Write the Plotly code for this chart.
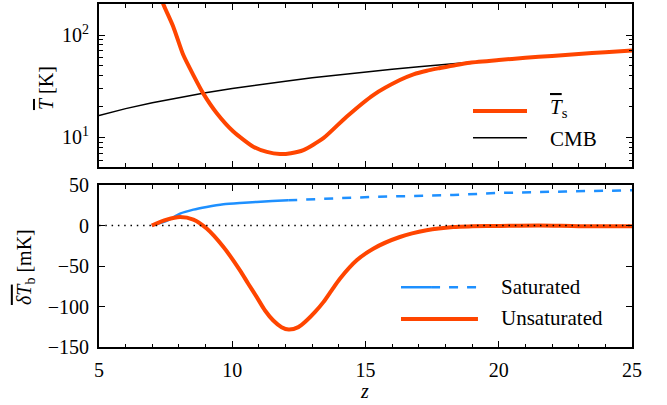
import plotly.graph_objects as go
from plotly.subplots import make_subplots

# ---------------- data ----------------
z_ts = [7.2, 7.41, 7.79, 8.16, 8.54, 8.91, 9.42, 10.04, 10.79, 11.3, 11.79, 12.2,
        12.67, 13.42, 14.29, 15.29, 16.29, 16.8, 17.3, 17.8, 18.4, 18.92, 20, 21,
        22, 23, 24, 25]
T_s = [290, 201, 120, 64, 40.6, 26.9, 17.2, 11.4, 8.1, 7.2, 6.87, 7.0,
       7.5, 9.8, 15.9, 25.9, 36.3, 41.3, 44.8, 47.6, 51.0, 53.6, 56.9, 59.8,
       62.5, 65.2, 67.9, 70.4]

z_cmb = [5, 6, 7, 8, 9, 10, 11, 12, 13, 14, 15, 16, 17, 18, 19, 20, 21, 22, 23, 24, 25]
T_cmb = [16.35, 19.08, 21.8, 24.5, 27.25, 29.98, 32.7, 35.4, 38.15, 40.9, 43.6,
         46.3, 49.05, 51.8, 54.5, 57.2, 59.95, 62.7, 65.4, 68.1, 70.85]

z_unsat = [6.98, 7.54, 8.04, 8.54, 9.04, 9.67, 10.29, 10.6, 10.92, 11.23, 11.54, 11.85,
           12.12, 12.48, 12.79, 13.1, 13.42, 13.73, 14.04, 14.67, 15.29, 16.29, 17.29,
           18.29, 19, 20, 21.5, 23, 25]
dTb_unsat = [0, 7.3, 10.5, 7.3, -3.8, -26.6, -55.4, -71.9, -88.4, -104.9, -117.3, -125.5,
             -128.5, -125.5, -117.3, -107, -94.6, -80, -65.7, -43, -28.6, -14.2, -5.9,
             -1.8, -1.0, -0.6, 0.0, -0.8, -1.0]

z_sat_solid = [6.98, 7.54, 8.04, 8.54, 9.04, 9.67, 10.29, 10.92, 11.5, 12.1]
dTb_sat_solid = [0, 5.6, 14.7, 19.6, 22.9, 26.2, 27.8, 29.1, 30.2, 31.2]
z_sat_dash = [12.1, 13.54, 15.29, 18.29, 20, 22.5, 25]
dTb_sat_dash = [31.2, 33.3, 35.3, 37.7, 40.2, 42.0, 43.5]

x_ticks = [5, 10, 15, 20, 25]
top_y_ticks = [10, 100]
top_y_ticktext = ["10<sup>1</sup>", "10<sup>2</sup>"]
top_y_minor = [6, 7, 8, 9, 20, 30, 40, 50, 60, 70, 80, 90, 200]
bot_y_ticks = [-150, -100, -50, 0, 50]

# ---------------- style ----------------
ORANGE = "#FF4500"
BLUE = "#1E90FF"
FONT = "Liberation Serif"
FS = 20
FSL = 21
OL = "<span style='text-decoration:overline'>{}</span>"

fig = make_subplots(rows=2, cols=1, shared_xaxes=False, vertical_spacing=0.0)

fig.add_trace(go.Scatter(x=z_cmb, y=T_cmb, mode="lines",
                         line=dict(color="black", width=1.5), showlegend=False), row=1, col=1)
fig.add_trace(go.Scatter(x=z_ts, y=T_s, mode="lines",
                         line=dict(color=ORANGE, width=4, shape="spline", smoothing=0.6),
                         showlegend=False), row=1, col=1)

fig.add_trace(go.Scatter(x=z_sat_solid, y=dTb_sat_solid, mode="lines",
                         line=dict(color=BLUE, width=2.5, shape="spline", smoothing=0.6),
                         showlegend=False), row=2, col=1)
fig.add_trace(go.Scatter(x=z_sat_dash, y=dTb_sat_dash, mode="lines",
                         line=dict(color=BLUE, width=2.5, dash="9px,9px"),
                         showlegend=False), row=2, col=1)
fig.add_trace(go.Scatter(x=z_unsat, y=dTb_unsat, mode="lines",
                         line=dict(color=ORANGE, width=4, shape="spline", smoothing=0.8),
                         showlegend=False), row=2, col=1)

axis_common = dict(showline=True, linecolor="black", linewidth=2, mirror="allticks",
                   ticks="inside", ticklen=6, tickwidth=1.2, tickcolor="black",
                   showgrid=False, zeroline=False, automargin=False,
                   tickfont=dict(family=FONT, size=FS, color="black"))

fig.update_xaxes(range=[5, 25], tickvals=x_ticks,
                 minor=dict(ticks="inside", dtick=1, tick0=5, ticklen=3.5, tickcolor="black",
                            tickwidth=1),
                 ticklabelstandoff=4, **axis_common)
fig.update_xaxes(showticklabels=False, row=1, col=1)

fig.update_yaxes(type="log", range=[0.713, 2.303], tickvals=top_y_ticks,
                 ticktext=top_y_ticktext,
                 minor=dict(ticks="inside", tickvals=top_y_minor, ticklen=3.5,
                            tickcolor="black", tickwidth=1),
                 ticklabelstandoff=4, row=1, col=1, **axis_common)
fig.update_yaxes(range=[-150, 50], tickvals=bot_y_ticks, ticklabelstandoff=4,
                 row=2, col=1, **axis_common)

fig.update_layout(
    width=667, height=405,
    margin=dict(l=99, r=35, t=4, b=58, pad=0),
    plot_bgcolor="white", paper_bgcolor="white",
    font=dict(family=FONT, size=FS, color="black"),
)
fig.layout.yaxis.domain = [0.5257, 1.0]
fig.layout.yaxis2.domain = [0.0, 0.4723]

# zero reference line (dotted)
fig.add_shape(type="line", xref="x2 domain", yref="y2", x0=0, x1=1, y0=0, y1=0,
              line=dict(color="black", width=1.5, dash="1.5px,4.8px"))

# ---------------- manual legends ----------------
# top panel
fig.add_shape(type="line", xref="x domain", yref="y domain", x0=0.7017, x1=0.803,
              y0=0.342, y1=0.342, line=dict(color=ORANGE, width=4))
fig.add_shape(type="line", xref="x domain", yref="y domain", x0=0.7017, x1=0.803,
              y0=0.178, y1=0.178, line=dict(color="black", width=1.5))
fig.add_annotation(xref="x domain", yref="y domain", x=0.842, y=0.36,
                   text=OL.format("<i>T</i>") + "<sub>s</sub>", showarrow=False,
                   xanchor="left", yanchor="middle", font=dict(family=FONT, size=FSL))
fig.add_annotation(xref="x domain", yref="y domain", x=0.842, y=0.17,
                   text="CMB", showarrow=False,
                   xanchor="left", yanchor="middle", font=dict(family=FONT, size=FSL))
# bottom panel
fig.add_shape(type="line", xref="x2 domain", yref="y2 domain", x0=0.5666, x1=0.623,
              y0=0.369, y1=0.369, line=dict(color=BLUE, width=2.5))
fig.add_shape(type="line", xref="x2 domain", yref="y2 domain", x0=0.623, x1=0.711,
              y0=0.369, y1=0.369, line=dict(color=BLUE, width=2.5, dash="9px,9px"))
fig.add_shape(type="line", xref="x2 domain", yref="y2 domain", x0=0.5666, x1=0.711,
              y0=0.173, y1=0.173, line=dict(color=ORANGE, width=4))
fig.add_annotation(xref="x2 domain", yref="y2 domain", x=0.7505, y=0.371,
                   text="Saturated", showarrow=False,
                   xanchor="left", yanchor="middle", font=dict(family=FONT, size=FSL))
fig.add_annotation(xref="x2 domain", yref="y2 domain", x=0.7505, y=0.18,
                   text="Unsaturated", showarrow=False,
                   xanchor="left", yanchor="middle", font=dict(family=FONT, size=FSL))

# ---------------- axis titles ----------------
fig.add_annotation(xref="paper", yref="paper", x=-0.0994, y=0.755,
                   text=OL.format("<i>T</i>") + " [K]", textangle=-90, showarrow=False,
                   xanchor="center", yanchor="middle", font=dict(family=FONT, size=FS))
fig.add_annotation(xref="paper", yref="paper", x=-0.139, y=0.233,
                   text=OL.format("<i>δT</i>") + "<sub>b</sub> [mK]", textangle=-90,
                   showarrow=False, xanchor="center", yanchor="middle",
                   font=dict(family=FONT, size=FS))
fig.add_annotation(xref="paper", yref="paper", x=0.499, y=-0.128,
                   text="<i>z</i>", showarrow=False,
                   xanchor="center", yanchor="middle", font=dict(family=FONT, size=FS))

fig.write_html("out.html", config={"displayModeBar": False},
               post_script="document.body.style.margin='0';document.body.style.padding='0';")
